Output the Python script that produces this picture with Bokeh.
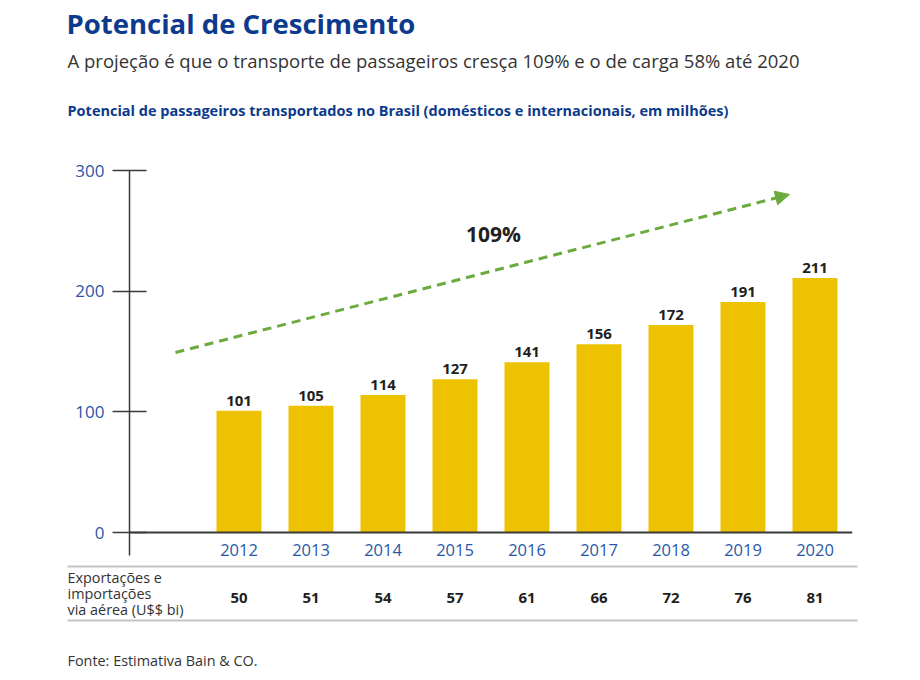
from bokeh.plotting import figure
from bokeh.layouts import column
from bokeh.models import (Label, Arrow, NormalHead, Span, ColumnDataSource,
                          FixedTicker, Range1d)
from bokeh.core.properties import value
from bokeh.embed import file_html
from bokeh.resources import INLINE

# ---------------- data ----------------
years = ["2012", "2013", "2014", "2015", "2016", "2017", "2018", "2019", "2020"]
passengers = [101, 105, 114, 127, 141, 156, 172, 191, 211]
cargo = [50, 51, 54, 57, 61, 66, 72, 76, 81]
y_ticks = [0, 100, 200, 300]

title = "Potencial de Crescimento"
subtitle = "A projeção é que o transporte de passageiros cresça 109% e o de carga 58% até 2020"
chart_title = "Potencial de passageiros transportados no Brasil (domésticos e internacionais, em milhões)"
row_label = ["Exportações e", "importações", "via aérea (U$$ bi)"]
growth_label = "109%"
source_note = "Fonte: Estimativa Bain & CO."

# ---------------- style / layout ----------------
FONT = "Open Sans"
BLUE_DARK = "#0d3a8c"
BLUE = "#2a58a6"
TEXT = "#333333"
NUM = "#231f20"
BAR = "#EDC200"
GREEN = "#6BAA3C"

W = 912
HEAD_H = 140            # header strip: page y 0..140
CHART_BOTTOM = 562      # chart strip: page y 140..562
TOTAL_H = 680           # table strip: page y 562..680

PX_PER_X = 72.0
X0_PAGE = 238.5          # page x of the first category centre
Y0_PAGE = 532.0          # page y of value 0
Y_TOP_PAGE = 170.0       # page y of value 300
PX_PER_Y = (Y0_PAGE - Y_TOP_PAGE) / 300.0
FRAME_L, FRAME_R = 129.0, 852.0


def px_to_x(px):
    return (px - X0_PAGE) / PX_PER_X


def py_to_y(py):
    return (Y0_PAGE - py) / PX_PER_Y


def strip(height, x_range, y_range):
    f = figure(width=W, height=height, x_range=x_range, y_range=y_range,
               x_axis_type=None, y_axis_type=None, output_backend="svg",
               toolbar_location=None, min_border=0,
               min_border_left=0, min_border_right=0,
               min_border_top=0, min_border_bottom=0)
    f.frame_align = False
    f.outline_line_color = None
    f.background_fill_color = "white"
    f.border_fill_color = "white"
    return f


# ---------------- header strip ----------------
head = strip(HEAD_H, Range1d(0, W), Range1d(HEAD_H, 0))
head.text(x=[66], y=[23], text=[title], text_align="left", text_baseline="middle",
          text_font=value(FONT), text_font_style="bold", text_font_size="27.5px",
          text_color=BLUE_DARK)
head.text(x=[67], y=[60], text=[subtitle], text_align="left", text_baseline="middle",
          text_font=value(FONT), text_font_size="18.5px", text_color=TEXT)
head.text(x=[67], y=[110], text=[chart_title], text_align="left", text_baseline="middle",
          text_font=value(FONT), text_font_style="bold", text_font_size="14.5px",
          text_color=BLUE_DARK)

# ---------------- chart strip ----------------
p = figure(width=W, height=CHART_BOTTOM - HEAD_H,
           x_range=Range1d(px_to_x(FRAME_L), px_to_x(FRAME_R)),
           y_range=Range1d(py_to_y(CHART_BOTTOM), py_to_y(Y_TOP_PAGE)),
           output_backend="svg", toolbar_location=None,
           min_border_left=int(FRAME_L), min_border_right=int(W - FRAME_R),
           min_border_top=int(Y_TOP_PAGE - HEAD_H), min_border_bottom=0)
p.frame_align = False
p.outline_line_color = None
p.xgrid.visible = False
p.ygrid.visible = False
p.xaxis.visible = False
p.background_fill_color = "white"
p.border_fill_color = "white"

yax = p.yaxis[0]
yax.ticker = FixedTicker(ticks=y_ticks)
yax.bounds = (py_to_y(555), 300)
yax.axis_line_color = "#3a3a3a"
yax.axis_line_width = 1.5
yax.major_tick_line_color = "#3a3a3a"
yax.major_tick_line_width = 1.5
yax.major_tick_in = 17
yax.major_tick_out = 17
yax.minor_tick_line_color = None
yax.major_label_text_color = BLUE
yax.major_label_text_font = FONT
yax.major_label_text_font_size = "17px"
yax.major_label_standoff = 8

p.add_layout(Span(location=0, dimension="width", line_color="#3a3a3a", line_width=2))

idx = list(range(len(years)))
src = ColumnDataSource(dict(x=idx, v=passengers, vs=[str(v) for v in passengers],
                            years=years, cargo=[str(c) for c in cargo]))

p.vbar(x="x", top="v", width=45 / PX_PER_X, source=src, fill_color=BAR, line_color=None)

p.text(x="x", y="v", text="vs", source=src, text_align="center", text_baseline="bottom",
       y_offset=-5, text_font=value(FONT), text_font_style="bold",
       text_font_size="15px", text_color=NUM)

p.text(x="x", y=py_to_y(549), text="years", source=src, text_align="center",
       text_baseline="middle", text_font=value(FONT), text_font_size="16.5px",
       text_color=BLUE)

# growth arrow
p.add_layout(Arrow(end=NormalHead(size=14, fill_color=GREEN, line_color=GREEN),
                   x_start=px_to_x(175), y_start=py_to_y(352),
                   x_end=px_to_x(789), y_end=py_to_y(194),
                   line_color=GREEN, line_width=3, line_dash="9 6"))

p.add_layout(Label(x=px_to_x(493), y=py_to_y(233), text=growth_label,
                   text_align="center", text_baseline="middle", text_font=FONT,
                   text_font_style="bold", text_font_size="21px", text_color=NUM))

# ---------------- table strip ----------------
tab = strip(TOTAL_H - CHART_BOTTOM, Range1d(px_to_x(0), px_to_x(W)),
            Range1d(TOTAL_H, CHART_BOTTOM))
tab.segment(x0=[px_to_x(67)] * 2, y0=[566, 620], x1=[px_to_x(857)] * 2, y1=[566, 620],
            line_color="#c4c4c4", line_width=2)
tab.text(x="x", y=597, text="cargo", source=src, text_align="center",
         text_baseline="middle", text_font=value(FONT), text_font_style="bold",
         text_font_size="15px", text_color=NUM)
tab.text(x=[px_to_x(67)] * 3, y=[577, 593, 609], text=row_label, text_align="left",
         text_baseline="middle", text_font=value(FONT), text_font_size="14.4px",
         text_color=TEXT)
tab.text(x=[px_to_x(67)], y=[660], text=[source_note], text_align="left",
         text_baseline="middle", text_font=value(FONT), text_font_size="14.4px",
         text_color=TEXT)

layout = column(head, p, tab, spacing=0)
open("out.html", "w").write(file_html(layout, INLINE))
